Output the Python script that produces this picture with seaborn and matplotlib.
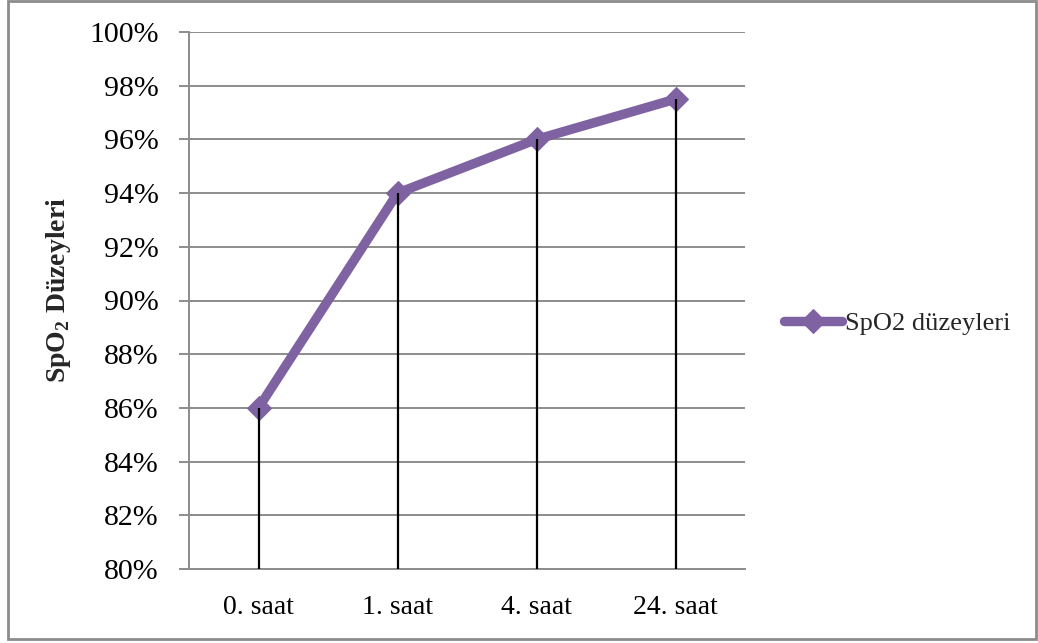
import matplotlib
matplotlib.use("Agg")
import matplotlib.pyplot as plt
import matplotlib.patches as mpatches
from matplotlib.ticker import PercentFormatter, MultipleLocator
import pandas as pd
import seaborn as sns

# Measurement times and mean SpO2 values
times = ["0. saat", "1. saat", "4. saat", "24. saat"]
spo2 = [0.86, 0.94, 0.96, 0.975]
series_name = "SpO2 düzeyleri"

sns.set_theme(style="white")
plt.rcParams["font.family"] = ["Liberation Serif", "DejaVu Serif"]
plt.rcParams["mathtext.fontset"] = "custom"
plt.rcParams["mathtext.rm"] = "Liberation Serif"
plt.rcParams["mathtext.bf"] = "Liberation Serif:bold"

df = pd.DataFrame({"time": times, "spo2": spo2})

purple = "#7F62A1"
grid_gray = "#8C8C8C"

fig = plt.figure(figsize=(10.38, 6.43), dpi=100)
ax = fig.add_axes([189 / 1038, 74 / 643, 556 / 1038, 537 / 643])

sns.lineplot(data=df, x="time", y="spo2", sort=False, ax=ax,
             color=purple, linewidth=6.8, marker="D", markersize=12.5,
             markeredgecolor=purple, label=series_name, zorder=3)

# Drop lines from each point to the bottom of the axis
ax.vlines(range(len(times)), 0.80, spo2, colors="black", linewidth=1.6, zorder=4)

ax.set_xlim(-0.5, len(times) - 0.5)
ax.set_ylim(0.80, 1.00)
ax.yaxis.set_major_locator(MultipleLocator(0.02))
ax.yaxis.set_major_formatter(PercentFormatter(xmax=1, decimals=0))
ax.grid(axis="y", color=grid_gray, linewidth=1.4, zorder=0)
ax.grid(axis="x", visible=False)

for side in ["top", "right"]:
    ax.spines[side].set_visible(False)
for side in ["left", "bottom"]:
    ax.spines[side].set_color(grid_gray)
    ax.spines[side].set_linewidth(1.4)

ax.tick_params(axis="y", which="major", left=True, length=7, width=1.4,
               color=grid_gray, pad=15, labelsize=21.5, labelcolor="black")
ax.tick_params(axis="x", length=0, pad=19, labelsize=20, labelcolor="black")

ax.set_xlabel("")
ax.set_ylabel(r"SpO$_{\mathbf{2}}$ Düzeyleri", fontsize=20, fontweight="bold")
ax.yaxis.set_label_coords(-0.208, 0.52)

ax.legend_.remove()
handles, labels = ax.get_legend_handles_labels()
fig.legend(handles, labels, loc="center left", bbox_to_anchor=(0.745, 0.497),
           frameon=False, fontsize=19, handlelength=2.2, handletextpad=0.1,
           borderaxespad=0)

# Chart border
fig.patches.append(mpatches.Rectangle((8 / 1038, 4 / 643), 1028 / 1038, 638 / 643,
                                      transform=fig.transFigure, fill=False,
                                      edgecolor="#8C8C8C", linewidth=2))

fig.savefig("out.png", dpi=100)
